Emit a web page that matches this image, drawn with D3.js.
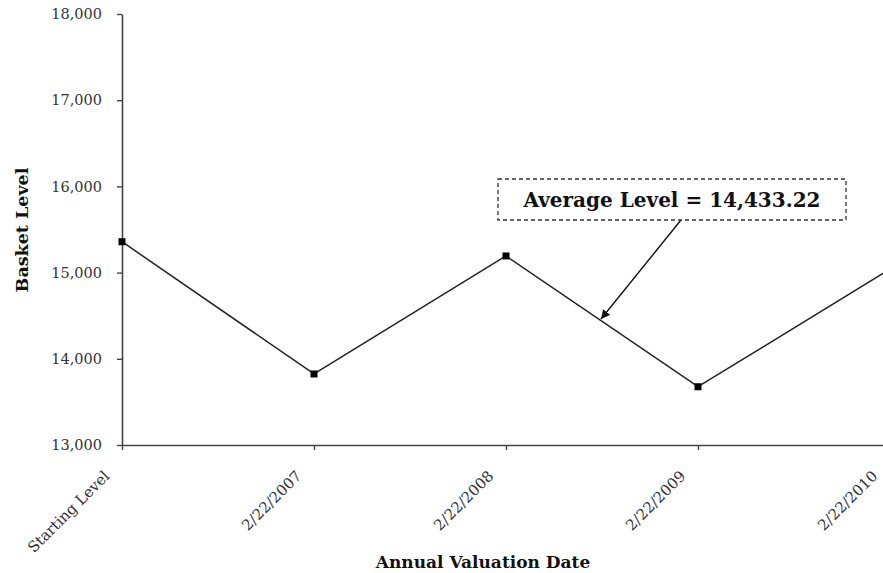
<!DOCTYPE html>
<html>
<head>
<meta charset="utf-8">
<script src="https://cdn.jsdelivr.net/npm/d3@7/dist/d3.min.js"></script>
<style>
  body { margin: 0; background: #fff; }
  svg { display: block; font-family: "DejaVu Serif", "Liberation Serif", serif; }
</style>
</head>
<body>
<svg id="chart" width="883" height="573"></svg>
<script>
// data
const categories = ["Starting Level", "2/22/2007", "2/22/2008", "2/22/2009", "2/22/2010"];
const basketValues = [15358, 13824, 15193, 13676, 15040];
const yTicks = [13000, 14000, 15000, 16000, 17000, 18000];
const averageLabel = "Average Level = 14,433.22";

const svg = d3.select("#chart");
const serif = "DejaVu Serif, Liberation Serif, serif";

const x = d3.scalePoint().domain(categories).range([122, 890]);
const y = d3.scaleLinear().domain([13000, 18000]).range([445, 14]);

// y axis
const yAxis = svg.append("g")
  .attr("transform", "translate(122,0)")
  .call(d3.axisLeft(y).tickValues(yTicks).tickFormat(d3.format(",")).tickSize(5).tickSizeOuter(0))
  .attr("font-family", serif);
yAxis.select(".domain").attr("stroke", "#444").attr("stroke-width", 1.6);
yAxis.selectAll(".tick line").attr("stroke", "#444").attr("stroke-width", 1.4);
yAxis.selectAll(".tick text")
  .attr("x", -20)
  .attr("fill", "#333")
  .style("font-size", "14.5px");

// x axis
const xAxis = svg.append("g")
  .attr("transform", "translate(0,445)")
  .call(d3.axisBottom(x).tickSize(5).tickSizeOuter(0))
  .attr("font-family", serif);
xAxis.select(".domain").attr("stroke", "#444").attr("stroke-width", 1.6);
xAxis.selectAll(".tick line").attr("stroke", "#444").attr("stroke-width", 1.4);
xAxis.selectAll(".tick text")
  .attr("fill", "#333")
  .style("font-size", "15px")
  .attr("text-anchor", "end")
  .attr("dy", null)
  .attr("y", null)
  .attr("transform", "translate(-12,32) rotate(-45)");

// axis titles
svg.append("text")
  .attr("transform", "translate(28,230) rotate(-90)")
  .attr("text-anchor", "middle")
  .style("font-weight", "bold")
  .style("font-size", "17.5px")
  .attr("fill", "#111")
  .text("Basket Level");

svg.append("text")
  .attr("x", 483)
  .attr("y", 568)
  .attr("text-anchor", "middle")
  .style("font-weight", "bold")
  .style("font-size", "17px")
  .attr("fill", "#111")
  .text("Annual Valuation Date");

// line + markers
const line = d3.line()
  .x((d, i) => x(categories[i]))
  .y(d => y(d));

svg.append("path")
  .datum(basketValues)
  .attr("d", line)
  .attr("fill", "none")
  .attr("stroke", "#222")
  .attr("stroke-width", 1.5);

svg.selectAll("rect.pt")
  .data(basketValues)
  .join("rect")
  .attr("class", "pt")
  .attr("x", (d, i) => x(categories[i]) - 3.5)
  .attr("y", d => y(d) - 3.5)
  .attr("width", 7)
  .attr("height", 7)
  .attr("fill", "#000");

// callout box + arrow
svg.append("defs").append("marker")
  .attr("id", "arrow")
  .attr("viewBox", "0 0 10 10")
  .attr("refX", 10)
  .attr("refY", 5)
  .attr("markerWidth", 9)
  .attr("markerHeight", 9)
  .attr("markerUnits", "userSpaceOnUse")
  .attr("orient", "auto")
  .append("path")
  .attr("d", "M0,0 L10,5 L0,10 z")
  .attr("fill", "#111");

svg.append("line")
  .attr("x1", 681).attr("y1", 220)
  .attr("x2", 601).attr("y2", 319)
  .attr("stroke", "#111")
  .attr("stroke-width", 1.4)
  .attr("marker-end", "url(#arrow)");

svg.append("rect")
  .attr("x", 498).attr("y", 179)
  .attr("width", 348).attr("height", 41)
  .attr("fill", "#fff")
  .attr("stroke", "#333")
  .attr("stroke-width", 1.3)
  .attr("stroke-dasharray", "4,3");

svg.append("text")
  .attr("x", 672)
  .attr("y", 207)
  .attr("text-anchor", "middle")
  .style("font-weight", "bold")
  .style("font-size", "20px")
  .attr("fill", "#111")
  .text(averageLabel);
</script>
</body>
</html>
